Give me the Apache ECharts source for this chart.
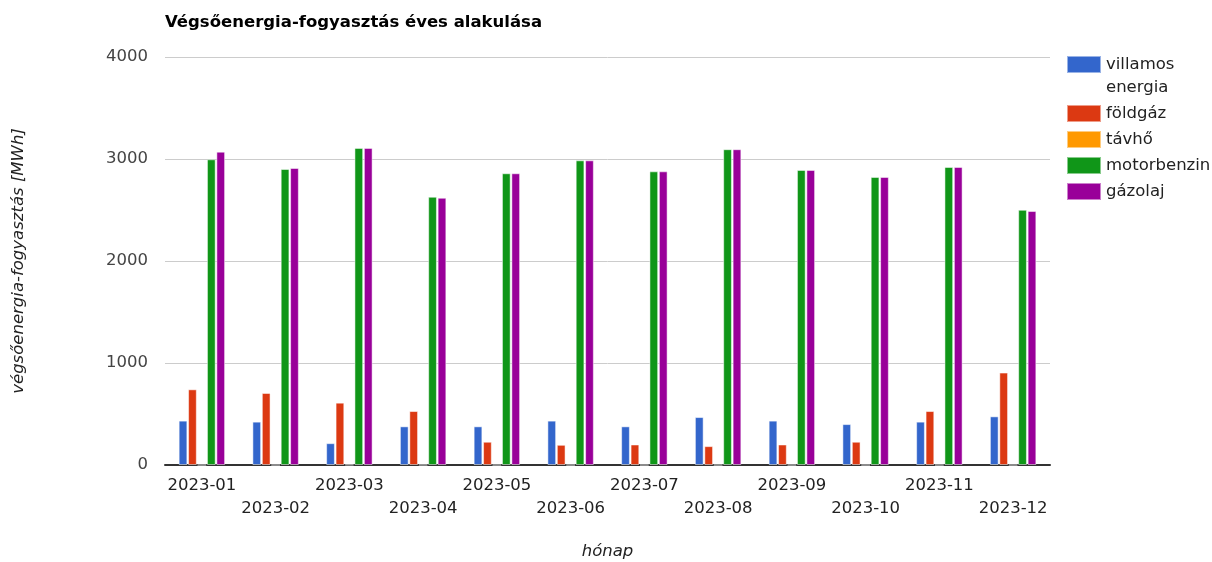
<!DOCTYPE html>
<html>
<head>
<meta charset="utf-8">
<script src="https://cdn.jsdelivr.net/npm/echarts@6/dist/echarts.min.js"></script>
<style>html,body{margin:0;padding:0;background:#fff}#c{width:1212px;height:562px}</style>
</head>
<body>
<div id="c"></div>
<script>
const categories = ['2023-01','2023-02','2023-03','2023-04','2023-05','2023-06','2023-07','2023-08','2023-09','2023-10','2023-11','2023-12'];
const villamosEnergia = [435, 425, 214, 379, 379, 435, 379, 470, 435, 401, 425, 477];
const foldgaz = [742, 706, 611, 529, 228, 198, 201, 185, 201, 228, 529, 906];
const tavho = [0, 0, 3, 1, 0, 0, 0, 0, 0, 0, 0, 0];
const motorbenzin = [2997, 2902, 3109, 2630, 2860, 2987, 2879, 3096, 2893, 2824, 2922, 2502];
const gazolaj = [3072, 2912, 3109, 2620, 2860, 2987, 2879, 3096, 2893, 2824, 2922, 2490];
const yTicks = [0, 1000, 2000, 3000, 4000];

const FONT = 'DejaVu Sans';
const FS = 16.5;
const seriesDefs = [
  ['villamos energia', villamosEnergia, '#3366cc'],
  ['földgáz', foldgaz, '#dc3912'],
  ['távhő', tavho, '#ff9900'],
  ['motorbenzin', motorbenzin, '#109618'],
  ['gázolaj', gazolaj, '#990099']
];
const chart = echarts.init(document.getElementById('c'), null, {renderer: 'canvas'});
chart.setOption({
  animation: false,
  textStyle: {fontFamily: FONT},
  title: {
    text: 'Végsőenergia-fogyasztás éves alakulása',
    left: 160, top: 9,
    textStyle: {fontFamily: FONT, fontSize: FS, fontWeight: 'bold', color: '#000'}
  },
  legend: {
    orient: 'vertical', left: 1061, top: 25,
    itemWidth: 34, itemHeight: 17, itemGap: 3,
    icon: 'rect',
    formatter: n => n === 'villamos energia' ? '\nvillamos\nenergia' : n,
    textStyle: {fontFamily: FONT, fontSize: FS, color: '#222', lineHeight: 23}
  },
  grid: {left: 165, right: 162, top: 57, bottom: 97, containLabel: false, outerBoundsMode: 'none'},
  xAxis: {
    type: 'category', data: categories,
    name: 'hónap', nameLocation: 'middle', nameGap: 78,
    nameTextStyle: {fontFamily: FONT, fontSize: FS, fontStyle: 'italic', color: '#222'},
    axisTick: {show: false},
    axisLine: {lineStyle: {color: '#333', width: 2}},
    axisLabel: {
      interval: 0, fontFamily: FONT, fontSize: FS, color: '#222', margin: 9, lineHeight: 23,
      formatter: (v, i) => (i % 2 === 1 ? '\n' + v : v)
    }
  },
  yAxis: {
    type: 'value', min: yTicks[0], max: yTicks[yTicks.length - 1], interval: 1000,
    name: 'végsőenergia-fogyasztás [MWh]', nameLocation: 'middle', nameGap: 138,
    nameTextStyle: {fontFamily: FONT, fontSize: FS, fontStyle: 'italic', color: '#222'},
    axisLine: {show: false}, axisTick: {show: false},
    axisLabel: {fontFamily: FONT, fontSize: FS, color: '#444', margin: 17, formatter: v => String(v)},
    splitLine: {lineStyle: {color: '#cccccc', width: 1}}
  },
  series: seriesDefs.map(([name, data, color]) => ({
    name, type: 'bar', data,
    barCategoryGap: '37%', barGap: '8%',
    itemStyle: {color, borderColor: 'rgba(255,255,255,0.5)', borderWidth: 1}
  }))
});
</script>
</body>
</html>
